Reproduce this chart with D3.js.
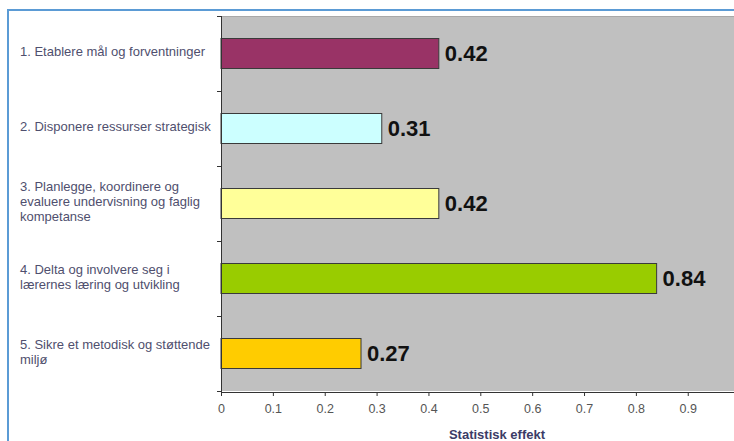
<!DOCTYPE html>
<html>
<head>
<meta charset="utf-8">
<script src="https://cdn.jsdelivr.net/npm/d3@7"></script>
<style>
  html, body { margin: 0; padding: 0; background: #fff; }
  svg { display: block; font-family: Arial, "Liberation Sans", sans-serif; }
</style>
</head>
<body>
<svg id="chart" width="734" height="441"></svg>
<script>
const categories = [
  "1. Etablere mål og forventninger",
  "2. Disponere ressurser strategisk",
  "3. Planlegge, koordinere og evaluere undervisning og faglig kompetanse",
  "4. Delta og involvere seg i lærernes læring og utvikling",
  "5. Sikre et metodisk og støttende miljø"
];
const labelLines = [
  ["1. Etablere mål og forventninger"],
  ["2. Disponere ressurser strategisk"],
  ["3. Planlegge, koordinere og", "evaluere undervisning og faglig", "kompetanse"],
  ["4. Delta og involvere seg i", "lærernes læring og utvikling"],
  ["5. Sikre et metodisk og støttende", "miljø"]
];
const values = [0.42, 0.31, 0.42, 0.84, 0.27];
const colors = ["#993366", "#ccffff", "#ffff99", "#99cc00", "#ffcc00"];
const xTicks = [0, 0.1, 0.2, 0.3, 0.4, 0.5, 0.6, 0.7, 0.8, 0.9];
const xTitle = "Statistisk effekt";

const W = 734, H = 441;
const plot = { left: 221, top: 16, right: 734, bottom: 391 };

const svg = d3.select("#chart");

// outer frame (blue)
svg.append("path")
  .attr("d", `M8,${H} L8,10 L${W},10`)
  .attr("fill", "none")
  .attr("stroke", "#5b9bd5")
  .attr("stroke-width", 2);

const x = d3.scaleLinear().domain([0, 1]).range([plot.left, plot.left + 518.6]);
const y = d3.scaleBand().domain(categories).range([plot.top, plot.bottom])
  .paddingInner(0.6).paddingOuter(0.3);

// plot background
svg.append("rect")
  .attr("x", plot.left).attr("y", plot.top)
  .attr("width", plot.right - plot.left).attr("height", plot.bottom - plot.top)
  .attr("fill", "#c0c0c0");
svg.append("line")
  .attr("x1", plot.left).attr("x2", plot.right)
  .attr("y1", plot.top + 0.5).attr("y2", plot.top + 0.5)
  .attr("stroke", "#a8a8a8");

// bars
svg.selectAll("rect.bar").data(values).join("rect")
  .attr("class", "bar")
  .attr("x", x(0))
  .attr("y", (d, i) => y(categories[i]))
  .attr("width", d => x(d) - x(0))
  .attr("height", y.bandwidth())
  .attr("fill", (d, i) => colors[i])
  .attr("stroke", "#3a3a3a")
  .attr("stroke-width", 1);

// value labels
svg.selectAll("text.val").data(values).join("text")
  .attr("class", "val")
  .attr("x", d => x(d) + 6)
  .attr("y", (d, i) => y(categories[i]) + y.bandwidth() / 2)
  .attr("dy", "0.36em")
  .attr("font-size", 22)
  .attr("font-weight", "bold")
  .attr("fill", "#111")
  .text(d => d.toFixed(2));

// left axis line + ticks at band boundaries
svg.append("line")
  .attr("x1", plot.left + 0.5).attr("x2", plot.left + 0.5)
  .attr("y1", plot.top).attr("y2", plot.bottom + 1)
  .attr("stroke", "#333");
const step = y.step();
const bounds = d3.range(categories.length + 1).map(i => plot.top + i * step);
svg.selectAll("line.ytick").data(bounds).join("line")
  .attr("class", "ytick")
  .attr("x1", plot.left - 4).attr("x2", plot.left)
  .attr("y1", d => d + 0.5).attr("y2", d => d + 0.5)
  .attr("stroke", "#333");

// category labels
const lineH = 15;
categories.forEach((c, i) => {
  const lines = labelLines[i];
  const cy = y(c) + y.bandwidth() / 2 - 2;
  const t = svg.append("text")
    .attr("x", 20)
    .attr("font-size", 13)
    .attr("fill", "#4f4f6e");
  lines.forEach((ln, j) => {
    t.append("tspan")
      .attr("x", 20)
      .attr("y", cy + (j - (lines.length - 1) / 2) * lineH)
      .attr("dy", "0.35em")
      .text(ln);
  });
});

// bottom axis
const xAxis = d3.axisBottom(x).tickValues(xTicks).tickSize(4).tickPadding(8)
  .tickFormat(d => d === 0 ? "0" : d3.format(".1f")(d));
const gx = svg.append("g")
  .attr("transform", `translate(0,${plot.bottom + 1})`)
  .call(xAxis);
gx.select(".domain").remove();
gx.append("line")
  .attr("x1", plot.left).attr("x2", plot.right)
  .attr("y1", 0.5).attr("y2", 0.5)
  .attr("stroke", "#333");
gx.selectAll(".tick line").attr("stroke", "#333");
gx.selectAll(".tick text")
  .attr("font-size", 12.5)
  .attr("font-family", "Arial, 'Liberation Sans', sans-serif")
  .attr("fill", "#555");

// axis title
svg.append("text")
  .attr("x", 497)
  .attr("y", 434)
  .attr("dy", "0.35em")
  .attr("text-anchor", "middle")
  .attr("font-size", 13)
  .attr("font-weight", "bold")
  .attr("fill", "#3b3b66")
  .text(xTitle);
</script>
</body>
</html>
